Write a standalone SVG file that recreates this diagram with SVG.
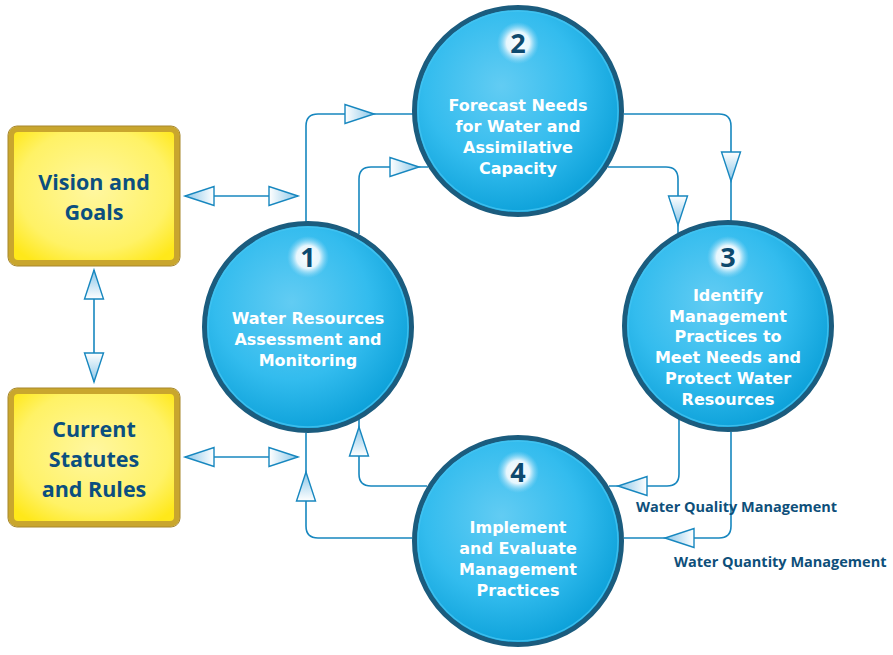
<svg xmlns="http://www.w3.org/2000/svg" xmlns:xlink="http://www.w3.org/1999/xlink" width="893" height="655" viewBox="0 0 893 655">
<style>
.ln{fill:none;stroke:#1787bf;stroke-width:1.6}
.ah{fill:url(#ahg);stroke:#1787bf;stroke-width:1.4;stroke-linejoin:miter}
.disc{fill:url(#cg);stroke:#1b5c7e;stroke-width:5}
.ring{fill:none;stroke:#45c3f0;stroke-width:1.5;opacity:0.8}
.badge{fill:url(#bg)}
.num{font-family:"Open Sans","Liberation Sans",sans-serif;font-weight:700;font-size:27px;fill:#0e4a6e;text-anchor:middle}
.ct{font-family:"DejaVu Sans","Liberation Sans",sans-serif;font-weight:700;font-size:16px;fill:#ffffff;text-anchor:middle}
.box{fill:url(#yg);stroke:#c9a62e;stroke-width:6}
.boxo{fill:none;stroke:#a8872a;stroke-width:1}
.bt{font-family:"Open Sans","Liberation Sans",sans-serif;font-weight:700;font-size:21.5px;fill:#0b4f7f;text-anchor:middle}
.lbl{font-family:"Open Sans","Liberation Sans",sans-serif;font-weight:700;font-size:14.5px;fill:#0e4f7a}
</style>
<defs>
<linearGradient id="ahg" x1="0" y1="0" x2="1" y2="0">
<stop offset="0" stop-color="#ffffff"/>
<stop offset="1" stop-color="#8ac6e8"/>
</linearGradient>
<radialGradient id="cg" cx="0.42" cy="0.38" r="0.62">
<stop offset="0" stop-color="#62ccf3"/>
<stop offset="0.6" stop-color="#33bcee"/>
<stop offset="1" stop-color="#0ea2da"/>
</radialGradient>
<radialGradient id="bg" cx="0.5" cy="0.5" r="0.5">
<stop offset="0" stop-color="#ffffff"/>
<stop offset="0.55" stop-color="#e6f6fd"/>
<stop offset="1" stop-color="#8fd6f5" stop-opacity="0"/>
</radialGradient>
<radialGradient id="yg" cx="0.5" cy="0.45" r="0.65">
<stop offset="0" stop-color="#fff7a0"/>
<stop offset="0.7" stop-color="#fff266"/>
<stop offset="1" stop-color="#ffe81a"/>
</radialGradient>
<path id="ar" d="M0,0 L-29,-9.5 L-29,9.5 Z"/>
</defs>

<g id="connectors">
<path class="ln" d="M185,196 H298"/>
<path class="ln" d="M94,270 V382"/>
<path class="ln" d="M185,457 H298"/>
<path class="ln" d="M306,222 V126 Q306,114 318,114 H413"/>
<path class="ln" d="M359,234 V179 Q359,167 371,167 H428"/>
<path class="ln" d="M624,114 H719 Q731,114 731,126 V222"/>
<path class="ln" d="M608,167 H666 Q678,167 678,179 V233"/>
<path class="ln" d="M679,419 V474 Q679,486 667,486 H609"/>
<path class="ln" d="M731,432 V526 Q731,538 719,538 H624"/>
<path class="ln" d="M427,486 H371 Q359,486 359,474 V419"/>
<path class="ln" d="M412,538 H318 Q306,538 306,526 V433"/>
<use href="#ar" class="ah" transform="translate(185,196) rotate(180)"/>
<use href="#ar" class="ah" transform="translate(298,196)"/>
<use href="#ar" class="ah" transform="translate(94,270) rotate(-90)"/>
<use href="#ar" class="ah" transform="translate(94,382) rotate(90)"/>
<use href="#ar" class="ah" transform="translate(185,457) rotate(180)"/>
<use href="#ar" class="ah" transform="translate(298,457)"/>
<use href="#ar" class="ah" transform="translate(374,114)"/>
<use href="#ar" class="ah" transform="translate(419,167)"/>
<use href="#ar" class="ah" transform="translate(731,181) rotate(90)"/>
<use href="#ar" class="ah" transform="translate(678,225) rotate(90)"/>
<use href="#ar" class="ah" transform="translate(618,486) rotate(180)"/>
<use href="#ar" class="ah" transform="translate(665,538) rotate(180)"/>
<use href="#ar" class="ah" transform="translate(359,427) rotate(-90)"/>
<use href="#ar" class="ah" transform="translate(306,472) rotate(-90)"/>
</g>

<g id="vision">
<rect class="box" x="11" y="129" width="166" height="134" rx="7"/>
<rect class="boxo" x="8" y="126" width="172" height="140" rx="9"/>
<text class="bt" x="94" y="190">Vision and</text>
<text class="bt" x="94" y="220">Goals</text>
</g>

<g id="statutes">
<rect class="box" x="11" y="391" width="166" height="133" rx="7"/>
<rect class="boxo" x="8" y="388" width="172" height="139" rx="9"/>
<text class="bt" x="94" y="437">Current</text>
<text class="bt" x="94" y="467">Statutes</text>
<text class="bt" x="94" y="497">and Rules</text>
</g>

<g id="step1">
<circle class="disc" cx="308" cy="327" r="103.5"/>
<circle class="ring" cx="308" cy="327" r="100"/>
<circle class="badge" cx="308" cy="257" r="21"/>
<text class="num" x="308" y="267">1</text>
<text class="ct" x="308" y="324">Water Resources</text>
<text class="ct" x="308" y="345">Assessment and</text>
<text class="ct" x="308" y="366">Monitoring</text>
</g>

<g id="step2">
<circle class="disc" cx="518" cy="111" r="103.5"/>
<circle class="ring" cx="518" cy="111" r="100"/>
<circle class="badge" cx="518" cy="43" r="21"/>
<text class="num" x="518" y="53">2</text>
<text class="ct" x="518" y="111">Forecast Needs</text>
<text class="ct" x="518" y="132">for Water and</text>
<text class="ct" x="518" y="153">Assimilative</text>
<text class="ct" x="518" y="174">Capacity</text>
</g>

<g id="step3">
<circle class="disc" cx="728" cy="326" r="103.5"/>
<circle class="ring" cx="728" cy="326" r="100"/>
<circle class="badge" cx="728" cy="257" r="21"/>
<text class="num" x="728" y="267">3</text>
<text class="ct" x="728" y="301">Identify</text>
<text class="ct" x="728" y="321.7">Management</text>
<text class="ct" x="728" y="342.4">Practices to</text>
<text class="ct" x="728" y="363.1">Meet Needs and</text>
<text class="ct" x="728" y="383.8">Protect Water</text>
<text class="ct" x="728" y="404.5">Resources</text>
</g>

<g id="step4">
<circle class="disc" cx="518" cy="541" r="103.5"/>
<circle class="ring" cx="518" cy="541" r="100"/>
<circle class="badge" cx="518" cy="472" r="21"/>
<text class="num" x="518" y="482">4</text>
<text class="ct" x="518" y="533">Implement</text>
<text class="ct" x="518" y="554">and Evaluate</text>
<text class="ct" x="518" y="575">Management</text>
<text class="ct" x="518" y="596">Practices</text>
</g>

<g id="labels">
<text class="lbl" x="636" y="512">Water Quality Management</text>
<text class="lbl" x="674" y="567">Water Quantity Management</text>
</g>
</svg>
